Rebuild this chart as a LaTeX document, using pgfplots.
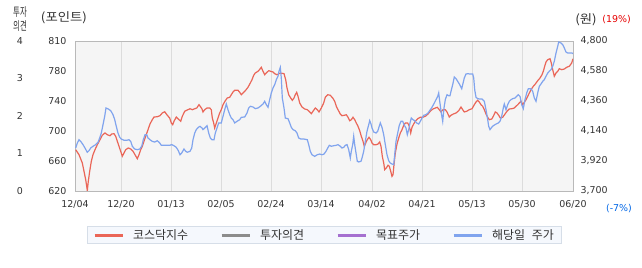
\documentclass[border=0pt]{standalone}
\usepackage{fontspec}
\usepackage{graphicx}
\usepackage{pgfplots}
\pgfplotsset{compat=1.18}
\setmainfont{DejaVu Sans}
\newfontfamily\kr{Noto Sans CJK KR}
\definecolor{redc}{RGB}{234,102,88}
\definecolor{bluec}{RGB}{128,164,238}
\definecolor{bgc}{RGB}{245,245,245}
\definecolor{axc}{RGB}{185,185,185}
\definecolor{gridc}{RGB}{220,220,220}
\definecolor{txt}{RGB}{51,51,51}
\definecolor{legbg}{RGB}{245,248,253}
\definecolor{legbd}{RGB}{214,222,232}
\definecolor{grayc}{RGB}{140,140,140}
\definecolor{purpc}{RGB}{165,112,208}
\definecolor{pctred}{RGB}{230,0,0}
\definecolor{pctblue}{RGB}{0,102,230}
\pgfplotsset{
  base/.style={
    at={(75bp,77bp)}, anchor=south west,
    scale only axis, width=498bp, height=150bp,
    xmin=0, xmax=498,
    major tick length=0pt,
    /pgf/number format/assume math mode=true,
    tick label style={font=\fontsize{9.5}{11}\selectfont, text=txt},
  }
}
\begin{document}
\begin{tikzpicture}
\useasboundingbox (0,0) rectangle (642bp,268bp);
% main axis: KOSDAQ index
\begin{axis}[base,
  ymin=620, ymax=810,
  axis background/.style={fill=bgc},
  axis line style={draw=axc, line width=1bp},
  xtick={0,46,96,146,196,246,297,347,397,447,498},
  xticklabels={12/04,12/20,01/13,02/05,02/24,03/14,04/02,04/21,05/13,05/30,06/20},
  ytick={620,658,696,734,772,810},
  yticklabels={620,660,700,740,780,810},
  xtick pos=bottom, ytick pos=left,
  xmajorgrids,
  major grid style={draw=gridc, line width=0.8bp},
  yticklabel style={xshift=-5bp},
  xticklabel style={yshift=-6bp},
  legend columns=4,
  legend image code/.code={\draw[#1, line width=3bp] (0bp,0bp) -- (28bp,0bp);},
  legend style={at={(0.501,-0.233)}, anchor=north, draw=legbd, fill=legbg,
    line width=0.8bp, font=\kr\fontsize{12}{14}\selectfont, text=txt,
    inner xsep=6bp, inner ysep=1bp,
    /tikz/every odd column/.append style={column sep=7bp},
    /tikz/every even column/.append style={column sep=30bp}},
]
\addplot[redc, line width=1.2bp] coordinates {
(0.7,672.3)(4,666.0)(7.3,655.5)(9,645.0)(10.7,634.3)(11.7,626.0)(12.3,620.4)(13.3,632.3)
(14.7,645.0)(16.3,657.6)(18,666.0)(20,672.3)(22.3,678.6)(25,685.0)(27.3,690.6)(30,693.5)
(32.3,691.3)(35,690.0)(36.7,692.2)(39,692.6)(40.7,689.3)(42.3,683.0)(44,676.6)(45.7,670.3)
(47.3,664.0)(49,668.1)(50.7,672.3)(53.3,674.5)(55.7,673.2)(58,670.3)(60,666.0)(62.3,660.9)
(64,666.0)(65.7,672.3)(67.3,676.6)(69,683.0)(70.7,689.3)(73,697.6)(75,704.9)(77.3,710.3)
(79,713.7)(82.3,714.1)(85,715.4)(87.3,718.8)(89.7,720.4)(92.3,715.9)(94.7,712.5)(96.3,706.1)
(97.7,704.0)(99,708.3)(101.3,713.7)(103.3,711.2)(105.7,708.3)(107.3,714.6)(109.7,721.0)
(112.3,722.6)(115,724.2)(117.3,723.0)(119.7,724.2)(121.7,725.1)(124,729.3)(125.7,726.4)
(127,723.9)(128,720.1)(129.7,723.0)(132,725.1)(134.7,725.1)(136.3,723.0)(137.3,712.5)
(138.7,706.1)(139.7,699.8)(141.3,706.1)(143,712.5)(144.7,718.8)(146.3,723.0)(148,729.3)
(150.3,734.4)(152.3,737.8)(154.7,738.7)(156.3,742.0)(158,745.4)(159.7,747.6)(163,747.6)
(164.7,745.0)(166.3,742.0)(168,744.1)(170.3,747.0)(173,751.4)(175.3,756.8)(177,761.0)
(178.7,766.6)(180.3,769.5)(183,771.6)(185.3,774.9)(186.3,776.7)(188,771.6)(189.7,767.3)
(191.3,769.5)(193.7,772.4)(195.7,771.6)(198,770.7)(199.7,768.6)(202,767.3)(204.7,769.1)
(207,769.1)(209,768.6)(210.7,761.0)(212,750.5)(213.7,742.0)(215.7,737.8)(217.3,734.9)
(219,737.8)(220.3,742.0)(221.7,745.0)(223,740.0)(224.7,731.5)(227,726.4)(229.7,723.9)
(232.3,723.0)(234.7,720.1)(236.3,717.9)(238,721.0)(240.3,725.1)(242.3,723.0)(244,720.1)
(246.3,725.1)(248.7,731.5)(250.3,738.7)(252.7,742.0)(255.3,741.2)(257.7,737.8)(259.7,733.6)
(261.3,727.3)(263,723.0)(265.3,717.5)(267,715.4)(269.3,715.9)(271.3,716.6)(273,713.4)
(274.7,709.0)(276.3,710.3)(278,713.4)(279.7,710.3)(281.3,706.1)(283,702.0)(284.7,696.4)
(286.3,689.3)(288,683.0)(289.3,676.6)(290.7,680.8)(292.3,685.0)(294,688.0)(295.7,685.0)
(297,680.8)(298.7,678.6)(301,678.6)(303,679.5)(304.7,682.1)(306,676.6)(307.3,664.0)
(308.7,655.5)(309.7,647.0)(311.3,649.1)(313,652.6)(314.3,651.3)(315.7,645.0)(317,638.6)
(318,640.6)(319,653.3)(320.3,668.1)(322,679.5)(323.7,687.1)(325.3,693.5)(327,697.6)
(328.7,703.2)(330.3,706.1)(332.7,706.1)(334.3,702.0)(335.7,693.5)(337,700.7)(338.7,704.9)
(340.3,708.3)(342.7,711.6)(345.3,713.4)(347.7,713.4)(350.3,714.6)(353,717.5)(355.7,721.7)
(358,723.9)(360.3,725.1)(362.3,726.0)(364.3,723.0)(366,720.1)(368,723.0)(370.3,723.0)
(372,720.1)(374.3,713.7)(376,715.9)(378.3,717.5)(381,718.8)(383.7,721.7)(386,726.4)
(387.7,723.0)(389.3,720.1)(391.7,721.0)(394.3,723.0)(397,724.2)(399.3,729.3)(401,732.7)
(402.7,734.9)(404.3,732.7)(406,729.3)(407.7,727.3)(409.3,723.0)(411,717.5)(412.7,713.4)
(414.3,710.3)(416.7,711.2)(418.3,714.6)(420.3,720.1)(422,718.8)(423.7,715.9)(425.3,712.5)
(427.7,713.4)(430,717.5)(432,721.0)(434.3,723.9)(436.7,724.2)(439.3,725.1)(441,727.3)
(442.7,729.3)(444.3,731.5)(446,733.6)(447.7,729.3)(449.3,732.4)(451,735.6)(452.7,740.0)
(454.3,744.1)(456,748.3)(458.3,752.6)(460.3,755.5)(462.7,759.7)(465,763.1)(467,767.3)
(468.3,771.6)(469.7,778.0)(471,783.4)(472.7,786.3)(475,787.6)(476.3,782.1)(477.7,773.7)
(479.3,765.3)(481,769.5)(482.7,771.6)(484.3,774.9)(486.7,773.7)(489.3,774.5)(491.7,776.7)
(494.3,778.0)(496.7,782.1)(498,787.6)
};
\addlegendentry{코스닥지수}
\addlegendimage{grayc}
\addlegendentry{투자의견}
\addlegendimage{purpc}
\addlegendentry{목표주가}
\addlegendimage{bluec}
\addlegendentry{해당일\hspace{4bp} 주가}
\end{axis}
% right axis: stock price
\begin{axis}[base,
  ymin=3700, ymax=4800,
  hide x axis, axis y line*=right, axis line style={draw=none},
  ytick={3700,3920,4140,4360,4580,4800},
  yticklabels={{3,700},{3,920},{4,140},{4,360},{4,580},{4,800}},
  yticklabel style={xshift=4bp},
]
\addplot[bluec, line width=1.2bp] coordinates {
(0.7,4015)(2.3,4052)(4,4076)(5.7,4064)(8,4040)(10,4015)(12.3,3984)(14,3996)(15.7,4015)
(18,4028)(20.7,4040)(23,4057)(24.7,4089)(26.3,4125)(28,4186)(29.7,4248)(31,4309)(33.3,4301)
(35.7,4289)(38,4260)(39.7,4223)(41.3,4174)(43,4125)(44.7,4094)(46.3,4081)(49,4072)
(51.7,4072)(54,4076)(55.7,4064)(57.3,4028)(59.7,4008)(62.3,4003)(64.7,4008)(66.7,4028)
(68.3,4076)(70,4113)(71.7,4113)(73,4089)(75,4076)(77.3,4064)(79.7,4059)(82.3,4069)
(84.7,4052)(86.3,4035)(89,4035)(92.3,4035)(94.7,4035)(96.7,4040)(99,4032)(101.3,4020)
(103.3,3996)(105,3966)(106.7,3979)(109,4008)(110.7,3991)(112.3,3984)(115,3991)(116.7,4015)
(118,4076)(119.7,4125)(121.3,4150)(123.3,4167)(125,4174)(127,4162)(128,4150)(129.7,4162)
(132,4179)(133.7,4125)(135.3,4089)(137,4076)(139,4076)(140.3,4125)(142,4162)(143.7,4199)
(146.3,4199)(148,4248)(149.7,4296)(151.3,4338)(153,4296)(154.7,4260)(156.3,4235)(158,4223)
(159.7,4199)(162,4211)(164.7,4223)(166.3,4240)(169.7,4243)(172,4272)(173.7,4309)(175.3,4321)
(178,4316)(180.3,4304)(183,4309)(185.3,4321)(188,4338)(189.7,4358)(191.3,4333)(193,4314)
(194.7,4370)(196.3,4419)(198,4455)(199.7,4480)(201.3,4516)(203,4541)(204,4578)(205.3,4607)
(206.3,4529)(207.3,4382)(209,4309)(210.3,4235)(213,4230)(214.7,4199)(216.3,4167)(218,4150)
(220.3,4142)(222,4125)(223.7,4089)(225.7,4081)(229,4081)(232.3,4076)(233.7,4040)(235.3,3991)
(237,3966)(239.7,3954)(242.3,3966)(244.7,3971)(247,3966)(249,3971)(251,3991)(252.7,4015)
(254.3,4035)(256.3,4028)(258.7,4032)(261,4035)(263,4040)(265.3,4028)(267,4015)(268.7,4020)
(270.3,4035)(272,4040)(273.7,4003)(275.3,3942)(276.3,3991)(277.7,4040)(278.7,4101)
(279.7,4040)(281,3979)(282.3,3918)(283.7,3913)(286,3918)(287,3942)(288.7,3991)(290.3,4064)
(292,4138)(293.7,4186)(294.7,4216)(296,4191)(297,4162)(298.7,4133)(301,4125)(302.7,4138)
(303.7,4162)(305.3,4199)(307,4167)(308.7,4113)(310.3,4040)(312,3966)(313.7,3922)(315.3,3905)
(317,3898)(318.7,3893)(319.7,3966)(321,4064)(322.7,4125)(324.3,4182)(326,4211)(327.7,4211)
(329.3,4182)(331,4162)(332.3,4113)(333.7,4150)(335,4199)(336.3,4235)(338,4223)(339.7,4216)
(341.7,4199)(343.7,4191)(345.3,4211)(347,4235)(348.7,4255)(351,4260)(353,4272)(355.3,4296)
(357,4314)(359.3,4345)(361,4370)(362.7,4394)(363.7,4419)(364.7,4358)(366.3,4272)(367.7,4211)
(369,4309)(370.3,4370)(372,4406)(373.7,4399)(375,4399)(376,4431)(377.7,4480)(379.3,4536)
(381,4524)(382.7,4504)(384.3,4485)(386.7,4450)(387.7,4480)(389.3,4529)(391,4558)(392.7,4560)
(395,4558)(397.7,4558)(398.7,4529)(399.7,4443)(401,4387)(402.7,4377)(404.3,4375)(407,4375)
(409.3,4358)(411,4296)(412.7,4223)(413.7,4174)(415,4150)(416.7,4167)(418.3,4179)(421,4191)
(423.3,4199)(425,4211)(426.7,4248)(428.3,4309)(429.3,4338)(431,4296)(432.7,4333)(434.3,4358)
(436,4370)(437.7,4377)(440,4382)(441.7,4394)(443.3,4406)(445,4394)(446.7,4333)(448.3,4304)
(450,4370)(451.7,4419)(453.3,4450)(456,4450)(457.7,4431)(459.3,4382)(461,4358)(462.7,4419)
(464.3,4468)(466,4485)(467.7,4504)(469.3,4516)(471,4541)(472.7,4565)(474.3,4578)(476,4590)
(477.7,4614)(479.3,4651)(481,4712)(482.7,4761)(483.7,4793)(486,4785)(487.7,4773)(489.3,4749)
(491,4719)(492.7,4712)(495,4712)(497,4712)(498,4707)
};
\end{axis}
% far-left axis: investment opinion
\begin{axis}[base,
  ymin=0, ymax=4,
  hide x axis, axis y line*=left, axis line style={draw=none},
  ytick={0,1,2,3,4}, yticklabels={0,1,2,3,4},
  yticklabel style={anchor=center, xshift=-55bp},
]
\end{axis}
% header texts
\node[font=\kr\fontsize{12}{13.7}\selectfont, text=txt, align=center, inner sep=0pt]
  at (20bp,249bp) {\scalebox{0.62}[1]{투자}\\\scalebox{0.62}[1]{의견}};
\node[font=\kr\fontsize{12}{13}\selectfont, text=txt, inner sep=0pt] at (64bp,250.5bp) {\scalebox{1.12}[1]{(포인트)}};
\node[font=\kr\fontsize{12}{13}\selectfont, text=txt, inner sep=0pt] at (586bp,248bp) {\scalebox{1.12}[1]{(원)}};
\node[font=\fontsize{9.5}{11}\selectfont, text=pctred, inner sep=0pt] at (616.7bp,248bp) {(19\%)};
\node[font=\fontsize{9.5}{11}\selectfont, text=pctblue, inner sep=0pt] at (619bp,59.3bp) {(-7\%)};
\end{tikzpicture}
\end{document}
